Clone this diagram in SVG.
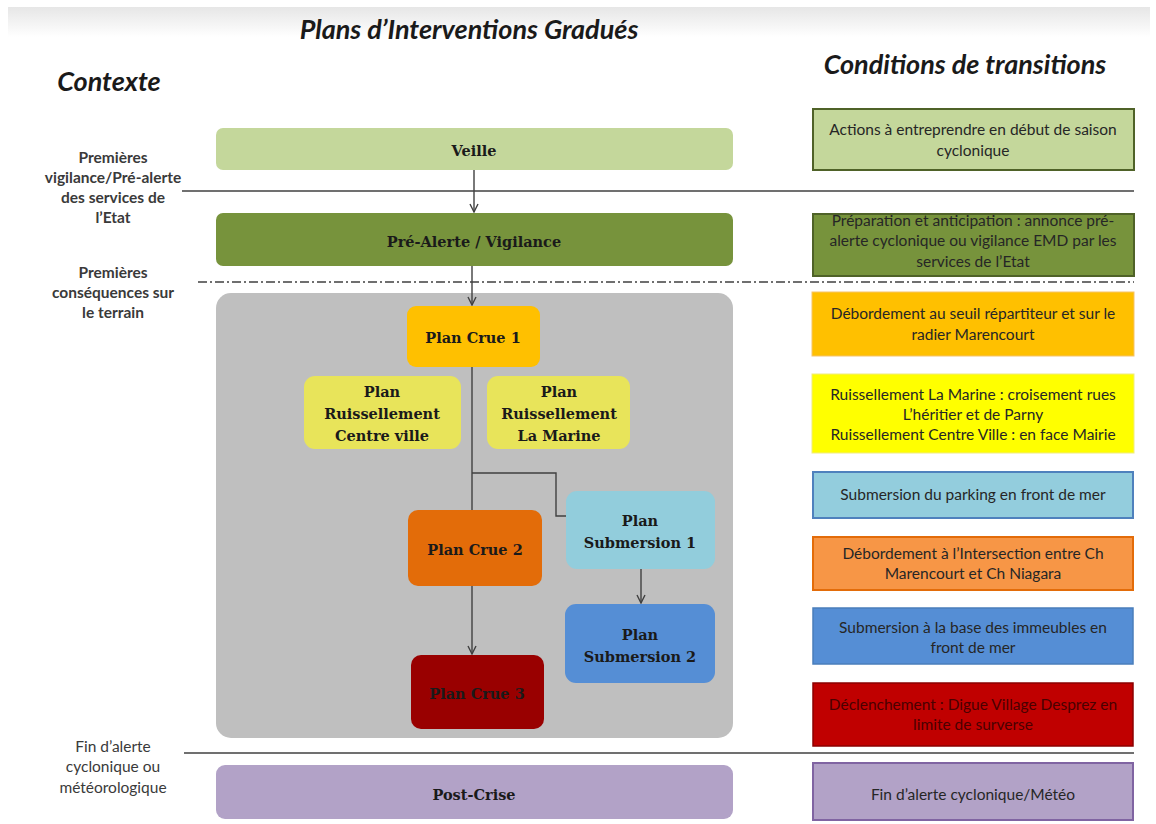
<svg xmlns="http://www.w3.org/2000/svg" width="1156" height="824" viewBox="0 0 1156 824">
<defs>
<linearGradient id="topband" x1="0" y1="0" x2="0" y2="1">
<stop offset="0" stop-color="#e6e6e6"/>
<stop offset="1" stop-color="#ffffff"/>
</linearGradient>
<marker id="arr" viewBox="0 0 10 10" refX="9" refY="5" markerWidth="10" markerHeight="10" markerUnits="userSpaceOnUse" orient="auto">
<path d="M1,1 L9,5 L1,9" fill="none" stroke="#404040" stroke-width="1.4"/>
</marker>
</defs>
<style>
.title{font-family:Lato,"Open Sans",sans-serif;font-style:italic;font-weight:bold;fill:#1a1a1a;text-anchor:middle}
.ctx{font-family:Lato,"Liberation Sans",sans-serif;font-size:15.5px;fill:#3a3a3a;text-anchor:middle}
.b{font-weight:bold}
.nl{font-family:"DejaVu Serif","Liberation Serif",serif;font-weight:bold;font-size:14.5px;fill:#1a1a1a;text-anchor:middle}
.cond{font-family:Lato,"Liberation Sans",sans-serif;font-size:15.5px;fill:#262626;text-anchor:middle}
.sep{stroke:#404040;stroke-width:1.3;fill:none}
.conn{stroke:#404040;stroke-width:1.4;fill:none}
</style>
<rect x="0" y="0" width="1156" height="824" fill="#ffffff"/>
<rect x="8" y="7" width="1142" height="30" fill="url(#topband)"/>

<text class="title" x="469" y="39" font-size="27">Plans d’Interventions Gradués</text>
<text class="title" x="109" y="91" font-size="27">Contexte</text>
<text class="title" x="965" y="74" font-size="27">Conditions de transitions</text>

<g id="contexte">
<text class="ctx b" x="113" y="163">Premières</text>
<text class="ctx b" x="113" y="183">vigilance/Pré-alerte</text>
<text class="ctx b" x="113" y="203">des services de</text>
<text class="ctx b" x="113" y="223">l’Etat</text>
<text class="ctx b" x="113" y="278">Premières</text>
<text class="ctx b" x="113" y="298">conséquences sur</text>
<text class="ctx b" x="113" y="318">le terrain</text>
<text class="ctx" x="113" y="752">Fin d’alerte</text>
<text class="ctx" x="113" y="772">cyclonique ou</text>
<text class="ctx" x="113" y="793">météorologique</text>
</g>

<g id="separators">
<line class="sep" x1="182" y1="191" x2="1134" y2="191"/>
<line class="sep" x1="198" y1="282" x2="1134" y2="282" stroke-dasharray="9,3,2,3"/>
<line class="sep" x1="184" y1="753" x2="1134" y2="753"/>
</g>

<g id="veille">
<rect x="216" y="128" width="517" height="42" rx="7" fill="#c4d79b"/>
<text class="nl" x="474" y="156">Veille</text>
</g>
<g id="pre-alerte">
<rect x="216" y="213" width="517" height="53" rx="7" fill="#77933c"/>
<text class="nl" x="474" y="247">Pré-Alerte  / Vigilance</text>
</g>
<g id="crise">
<rect x="216" y="293" width="517" height="445" rx="15" fill="#bfbfbf"/>
</g>
<g id="crue1">
<rect x="407" y="306" width="133" height="61" rx="9" fill="#ffc000"/>
<text class="nl" x="473" y="343">Plan Crue 1</text>
</g>
<g id="ruis-cv">
<rect x="304" y="376" width="157" height="73" rx="11" fill="#e8e45a"/>
<text class="nl" x="382" y="397">Plan</text>
<text class="nl" x="382" y="419">Ruissellement</text>
<text class="nl" x="382" y="441">Centre ville</text>
</g>
<g id="ruis-lm">
<rect x="487" y="376" width="143" height="73" rx="11" fill="#e8e45a"/>
<text class="nl" x="559" y="397">Plan</text>
<text class="nl" x="559" y="419">Ruissellement</text>
<text class="nl" x="559" y="441">La Marine</text>
</g>
<g id="sub1">
<rect x="566" y="491" width="149" height="78" rx="11" fill="#92cddc"/>
<text class="nl" x="640" y="526">Plan</text>
<text class="nl" x="640" y="548">Submersion  1</text>
</g>
<g id="crue2">
<rect x="408" y="510" width="134" height="76" rx="10" fill="#e36c09"/>
<text class="nl" x="475" y="555">Plan Crue 2</text>
</g>
<g id="sub2">
<rect x="565" y="604" width="150" height="79" rx="11" fill="#558ed5"/>
<text class="nl" x="640" y="640">Plan</text>
<text class="nl" x="640" y="662">Submersion  2</text>
</g>
<g id="crue3">
<rect x="411" y="655" width="133" height="74" rx="10" fill="#990000"/>
<text class="nl" x="477" y="699">Plan Crue 3</text>
</g>
<g id="post-crise">
<rect x="216" y="765" width="517" height="54" rx="9" fill="#b2a2c7"/>
<text class="nl" x="474" y="800">Post-Crise</text>
</g>

<g id="connectors">
<line class="conn" x1="474" y1="170" x2="474" y2="212" marker-end="url(#arr)"/>
<line class="conn" x1="472" y1="266" x2="472" y2="305" marker-end="url(#arr)"/>
<line class="conn" x1="472" y1="367" x2="472" y2="510"/>
<polyline class="conn" points="472,473 556,473 556,516 566,516" stroke="#595959"/>
<line class="conn" x1="472" y1="586" x2="472" y2="654" marker-end="url(#arr)"/>
<line class="conn" x1="641" y1="569" x2="641" y2="603" marker-end="url(#arr)"/>
</g>

<g id="cond-1">
<rect x="813" y="109" width="321" height="61" fill="#c4d79b" stroke="#4f6228" stroke-width="2"/>
<text class="cond" x="973" y="135">Actions à entreprendre en début de saison</text>
<text class="cond" x="973" y="156">cyclonique</text>
</g>
<g id="cond-2">
<rect x="813" y="214" width="321" height="62" fill="#77933c" stroke="#4f6228" stroke-width="2"/>
<text class="cond" x="973" y="226">Préparation et anticipation : annonce pré-</text>
<text class="cond" x="973" y="246">alerte cyclonique ou vigilance EMD par les</text>
<text class="cond" x="973" y="267">services de l’Etat</text>
</g>
<g id="cond-3">
<rect x="812" y="292" width="322" height="64" fill="#ffc000" stroke="#f5c36b" stroke-width="1"/>
<text class="cond" x="973" y="319">Débordement au seuil répartiteur et  sur le</text>
<text class="cond" x="973" y="340">radier Marencourt</text>
</g>
<g id="cond-4">
<rect x="812" y="374" width="322" height="79" fill="#ffff00" stroke="#f0ec80" stroke-width="1"/>
<text class="cond" x="973" y="400">Ruissellement La Marine :  croisement rues</text>
<text class="cond" x="973" y="420">L’héritier et de Parny</text>
<text class="cond" x="973" y="440">Ruissellement Centre Ville : en face Mairie</text>
</g>
<g id="cond-5">
<rect x="813" y="472" width="320" height="46" fill="#93cddd" stroke="#4f81bd" stroke-width="2"/>
<text class="cond" x="973" y="500">Submersion du parking en front de mer</text>
</g>
<g id="cond-6">
<rect x="813" y="537" width="320" height="53" fill="#f79646" stroke="#e36c09" stroke-width="2"/>
<text class="cond" x="973" y="559">Débordement à l’Intersection entre Ch</text>
<text class="cond" x="973" y="579">Marencourt et Ch Niagara</text>
</g>
<g id="cond-7">
<rect x="813" y="608" width="320" height="56" fill="#558ed5" stroke="#4a7ebb" stroke-width="1.5"/>
<text class="cond" x="973" y="633">Submersion à la base des immeubles en</text>
<text class="cond" x="973" y="653">front de mer</text>
</g>
<g id="cond-8">
<rect x="813" y="683" width="320" height="63" fill="#c00000" stroke="#8c0000" stroke-width="1.5"/>
<text class="cond" x="973" y="710" style="fill:#4a0000">Déclenchement : Digue Village Desprez en</text>
<text class="cond" x="973" y="730" style="fill:#4a0000">limite de surverse</text>
</g>
<g id="cond-9">
<rect x="813" y="763" width="320" height="57" fill="#b2a2c7" stroke="#8064a2" stroke-width="2"/>
<text class="cond" x="973" y="800">Fin d’alerte cyclonique/Météo</text>
</g>
</svg>
